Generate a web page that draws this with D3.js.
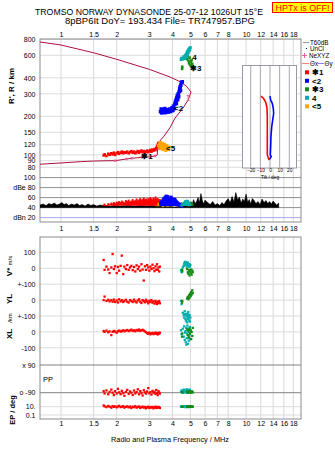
<!DOCTYPE html>
<html><head><meta charset="utf-8">
<script src="https://cdn.jsdelivr.net/npm/d3@7"></script>
<style>
body{margin:0;background:#fff}
svg{display:block;font-family:"Liberation Sans",Arial,sans-serif}
.ax text{font-size:7px;fill:#000}
.ax path{display:none}
</style>
</head><body><svg id="c" width="335" height="451"></svg>
<script>
// ---------- DATA ----------
const freqTicks = [1,1.5,2,3,4,5,6,7,8,10,12,14,16,18];
const heightTicks = [80,90,100,120,150,200,300,400,600,800];
const dbTicks = [20,40,60,80,100];

// echo 1 (red)
const redF  = [1.70,1.72,1.76,1.80,1.83,1.87,1.90,1.93,1.96,2.00,2.03,2.06,2.10,2.13,2.17,2.20,2.24,2.28,2.32,2.36,2.40,2.44,2.48,2.52,2.56,2.60,2.64,2.68,2.72,2.76,2.80,2.84,2.88,2.92,2.96,3.00,3.04,3.08,3.12,3.16,3.20,3.24,3.27,3.30,3.33,3.36,3.39,3.42];
const redH  = [99,101,98,102,100,103,101,104,100,103,105,102,104,106,103,105,104,106,103,105,107,104,106,103,105,107,104,106,108,105,107,104,106,108,105,107,109,106,110,108,111,109,113,116,120,124,118,112];
const redAmp= [46,48,45,49,47,50,48,51,49,52,50,53,51,54,52,50,55,53,56,52,54,57,53,55,58,54,56,59,55,57,60,56,58,55,59,57,61,58,56,60,57,62,58,55,59,56,53,57];
const redV  = [52,-10,10,-8,-30,5,89,-5,12,-30,8,-15,15,79,-37,10,-5,20,-10,5,15,-12,8,-20,18,-5,10,-15,25,-8,-77,12,-10,20,5,-15,10,-5,22,0,-18,12,-8,25,-10,5,-20,10];
const redYL = [0,22,-5,2,-8,0,-10,3,-12,-2,-15,5,-8,0,-12,-5,2,-10,-15,0,-5,-12,3,-8,-15,-2,5,-10,-18,0,-6,-14,2,-9,-20,-4,-12,0,-16,-8,-22,-5,-14,-25,-10,-18,-6,-20];
const redXL = [5,0,8,-2,3,-20,0,6,2,-5,4,8,2,6,10,4,8,12,5,9,14,6,10,4,12,8,15,6,10,13,8,3,-2,-8,-12,-5,-15,-10,-6,-14,-9,-4,-12,-8,-16,-6,-11,-5];
const redPP = [-80,-95,-75,-100,-85,-70,-90,-105,-80,-95,-65,-88,-100,-78,-92,-110,-85,-72,-98,-82,-90,-105,-76,-94,-86,-68,-100,-80,-92,-108,-74,-88,-96,-82,-60,-94,-86,-102,-78,-90,-84,-98,-72,-92,-106,-80,-88,-96];
const redEP = [20,12,8,15,10,6,14,9,12,7,11,16,8,10,13,6,9,12,7,11,5,10,8,13,6,9,11,5,8,10,6,9,4,7,10,5,8,6,9,4,7,10,5,8,6,9,7,5];

// echo 2 (blue)
const blueF  = [3.45,3.50,3.48,3.55,3.58,3.52,3.62,3.66,3.64,3.70,3.74,3.78,3.82,3.86,3.90,3.94,3.98,4.02,4.05,4.08,4.12,4.15,4.18,4.20,4.22,4.25,4.27,4.30,4.32,4.35,4.38,4.40,4.42,4.44,4.47,4.52];
const blueH  = [218,213,228,220,215,225,223,214,230,219,225,216,221,228,218,226,233,222,240,230,248,258,268,252,278,290,270,300,285,312,328,340,318,350,368,372];
const blueAmp= [52,55,50,58,60,54,62,64,57,66,63,65,60,62,58,64,61,56,59,55,60,57,52,55,50,53,48,51,46,49,44,47,50,45,42,44];

// echo 3 (green)
const greenF  = [4.51,4.52,4.80,4.84,4.88,4.92,4.95,4.98,5.02,5.05,5.08,5.12,5.15];
const greenH  = [470,488,560,590,545,520,575,505,535,495,550,515,485];
const greenAmp= [50,48,47,52,49,51,46,50,48,52,47,49,46];
const greenV  = [-10,-20,-5,-25,-35,-12,-45,-20,-30,-8,-40,-15,-25];
const greenYL = [-15,-5,10,20,5,30,15,40,25,50,35,62,45];
const greenXL = [-30,-10,15,-20,5,-35,20,-10,10,-45,0,-25,25];
const greenPP = [-85,-88,-82,-90,-86,-84,-88,-80,-86,-90,-84,-82,-88];
const greenEP = [10,11,9,12,10,11,9,10,12,10,9,11,10];

// echo 4 (cyan)
const cyanF  = [4.45,4.48,4.55,4.60,4.63,4.66,4.70,4.72,4.75,4.78,4.80,4.82,4.85,4.87,4.90,4.92,4.95,4.97,5.00,4.68,4.76,4.84,4.88,4.93];
const cyanH  = [555,570,560,585,575,590,600,580,610,620,640,600,650,630,670,655,680,660,690,565,595,625,645,665];
const cyanAmp= [46,44,48,50,52,47,55,49,53,51,56,48,54,50,52,47,49,45,46,53,51,55,49,48];
const cyanV  = [-12,-25,5,15,28,35,20,38,25,10,32,18,30,22,12,26,8,15,20,40,30,36,14,24];
const cyanYL = [-5,-25,-80,-95,-110,-70,-120,-90,-130,-100,-140,-85,-115,-75,-105,-125,-95,-135,-110,-88,-102,-118,-92,-128];
const cyanXL = [10,-15,20,-30,35,-50,5,-65,25,-40,-10,40,-75,15,-55,0,-20,30,-45,-5,-80,20,-35,10];
const cyanPP = [-85,-75,-90,-70,-80,-88,-72,-84,-78,-90,-68,-82,-76,-86,-74,-80,-88,-70,-84,-78,-72,-86,-80,-76];
const cyanEP = [10,12,9,11,13,10,8,12,11,9,14,10,12,8,11,13,9,10,12,11,9,13,10,12];

// echo 5 (orange)
const orangeF  = [3.36,3.40,3.44,3.48,3.50,3.53,3.56,3.60,3.63,3.66,3.70,3.73,3.76,3.80,3.84,3.42,3.55,3.68];
const orangeH  = [118,122,125,120,116,123,119,114,121,117,112,118,114,110,115,112,110,108];
const orangeAmp= [48,50,46,52,49,47,51,45,48,50,46,49,44,47,45,51,43,46];

// raw amplitude (black)
const ampF = [0.77,0.80,0.83,0.86,0.89,0.92,0.95,0.98,1.01,1.04,1.07,1.10,1.14,1.18,1.22,1.26,1.30,1.35,1.40,1.45,1.50,1.56,1.62,1.68,1.75,1.85,1.95,2.1,2.3,2.5,2.7,2.9,3.1,3.3,3.5,3.7,3.9,4.1,4.3,4.5,4.7,4.9,5.1,5.2,5.3,5.4,5.5,5.6,5.7,5.8,5.9,6.0,6.2,6.4,6.6,6.8,7.0,7.2,7.4,7.6,7.8,8.0,8.2,8.4,8.6,8.8,9.0,9.2,9.4,9.6,9.8,10.0,10.2,10.4,10.6,10.8,11.0,11.3,11.6,11.9,12.2,12.5,12.8,13.1,13.4,13.7,14.0,14.3,14.6,15.0];
const ampDB = [45,47,44,48,46,49,45,47,50,46,48,44,47,45,48,44,46,43,47,44,46,43,45,44,44,43,44,43,44,43,44,43,44,42,43,42,42,41,42,42,43,42,44,56,48,52,60,50,68,54,47,55,50,46,52,45,48,44,50,46,53,58,49,62,51,70,55,61,49,57,52,67,50,56,47,58,55,48,52,46,57,50,54,48,52,47,53,49,45,49];

// profile (plasma frequency vs real height)
const profF = [0.77,1.0,1.27,1.5,1.77,1.96,2.26,2.41,2.73,3.03,3.22,3.31,3.33,3.35,3.6,3.88,4.13,4.56,4.86,5.04,4.75,4.4,3.88,3.0,2.0,1.5,1.0,0.77];
const profH = [84.5,86.5,88.5,89.5,90,90.1,92.9,94,95.7,96.8,98,99.5,112,124,140,163,194,232,268,310,345,373,406,466,558,628,722,762];
const nexF = [1.96,2.26,2.41,2.73,3.03,3.22];
const nexH = [90.1,92.9,94,95.7,96.8,98];

// tilt
const tiltXh = [288,277,264,253,231,200,160,130,110,100,95,91];
const tiltX  = [-9.3,-6.9,-5.2,-4.1,-3.1,-2.8,-2.8,-2.8,-2.8,-2.8,-1.8,-0.7];
const tiltYh = [288,268,253,231,211,187,166,139,116,100,97,92.5];
const tiltY  = [0,0.7,2.4,3.4,3.8,2.8,1.8,1,0.7,0.3,1.3,-0.3];
const tiltTicks = [-20,-10,0,10,20];

// echo labels
const labelF = [2.71,4.08,4.98,5.11,3.69];
const labelH = [98,232,477,582,113];
const labelText = ["\u27311","<2","\u27313","4","<5"];

const legendNames = ["\u27311","<2","\u27313"," 4","<5"];
const echoColors = ["#ff0000","#0000ff","#158a15","#00aeae","#ffa500"];

// ---------- SCALES ----------
const svg = d3.select("#c");
const L = 40, R = 301;
const x  = d3.scaleLog().domain([0.77,19.8]).range([L,R]);
const yH = d3.scaleLog().domain([800,73.1]).range([39.3,172.3]);
const yDB= d3.scaleLinear().domain([20,100]).range([217.6,177.6]);
const yV = d3.scaleLinear().domain([100,-100]).range([252.3,284.2]);
const yYL= d3.scaleLinear().domain([100,-100]).range([284.2,316]);
const yXL= d3.scaleLinear().domain([100,-100]).range([316,347.8]);
const yPP= d3.scaleLinear().domain([90,-90]).range([365,392.7]);
const yEP= d3.scaleLog().domain([10,0.1]).range([406.7,415]);
const xT = d3.scaleLinear().domain([-28,28]).range([243,297]);

const T1 = 39, B1 = 222, T2 = 237, B2 = 419;

// ---------- HEADER ----------
svg.append("text").attr("x",35).attr("y",14.8).attr("font-size",8.6).attr("textLength",228)
  .attr("lengthAdjust","spacingAndGlyphs").text("TROMSO NORWAY   DYNASONDE 25-07-12 1026UT 15\u00B0E");
svg.append("text").attr("x",65).attr("y",23.5).attr("font-size",8.6).attr("textLength",190)
  .attr("lengthAdjust","spacingAndGlyphs").text("8pBP6It DoY= 193.434 File= TR747957.BPG");
svg.append("rect").attr("x",272.5).attr("y",2.5).attr("width",60).attr("height",10)
  .attr("fill","#ffff00").attr("stroke","#ff0000");
svg.append("text").attr("x",302.5).attr("y",10.8).attr("text-anchor","middle").attr("font-size",8.5)
  .attr("fill","#ff0000").attr("textLength",54).attr("lengthAdjust","spacingAndGlyphs").text("HPTx is OFF!");

// ---------- GRIDS ----------
const grid = svg.append("g");
freqTicks.forEach(f=>{
  grid.append("line").attr("x1",x(f)).attr("x2",x(f)).attr("y1",T1).attr("y2",B1).attr("stroke","#d9d9d9");
  grid.append("line").attr("x1",x(f)).attr("x2",x(f)).attr("y1",T2).attr("y2",B2).attr("stroke","#d9d9d9");
});
heightTicks.forEach(h=>{
  grid.append("line").attr("x1",L).attr("x2",R).attr("y1",yH(h)).attr("y2",yH(h)).attr("stroke","#dcdcdc");
});
dbTicks.forEach(d=>{
  grid.append("line").attr("x1",L).attr("x2",R).attr("y1",yDB(d)).attr("y2",yDB(d))
   .attr("stroke", d===20 ? "#a8a8e8" : "#909090");
});
const lightLines = [[yV,100],[yV,0],[yV,-100],[yYL,0],[yYL,-100],[yXL,0],[yXL,-100],[yEP,10],[yEP,0.1]];
lightLines.forEach(([s,v])=>{
  grid.append("line").attr("x1",L).attr("x2",R).attr("y1",s(v)).attr("y2",s(v)).attr("stroke","#dcdcdc");
});
[90,-90].forEach(v=>{
  grid.append("line").attr("x1",L).attr("x2",R).attr("y1",yPP(v)).attr("y2",yPP(v)).attr("stroke","#808080");
});

// ---------- AXES ----------
function xAxis(gen, y){
  svg.append("g").attr("class","ax").attr("transform",`translate(0,${y})`)
    .call(gen(x).tickValues(freqTicks).tickFormat(d=>d).tickSize(0).tickPadding(0));
}
xAxis(d3.axisTop, 37.2);
xAxis(d3.axisBottom, 226.5);
xAxis(d3.axisBottom, 421.5);

function yAxis(scale, vals, fmt){
  svg.append("g").attr("class","ax").attr("transform",`translate(${L},0)`)
    .call(d3.axisLeft(scale).tickValues(vals).tickFormat(fmt).tickSize(0).tickPadding(4.5));
}
yAxis(yH, heightTicks, d=>d);
yAxis(yDB, dbTicks, d=> d===80 ? "dBe 80" : d===20 ? "dBn 20" : d);
yAxis(yV, [100,0], d=>d);
yAxis(yYL, [100,0], d=> d===100 ? "+-100" : d);
yAxis(yXL, [100,0,-100], d=> d===100 ? "+-100" : d);
yAxis(yPP, [90,-90], d=> d===90 ? "x 90" : "o -90");
yAxis(yEP, [10,0.1], d=> d===10 ? "10." : "0.1");

// ---------- FRAMES ----------
svg.append("rect").attr("x",L).attr("y",T1).attr("width",R-L).attr("height",B1-T1).attr("fill","none").attr("stroke","#8c8c8c");
svg.append("rect").attr("x",L).attr("y",T2).attr("width",R-L).attr("height",B2-T2).attr("fill","none").attr("stroke","#8c8c8c");

// axis titles
svg.append("text").attr("transform","translate(14,86) rotate(-90)").attr("text-anchor","middle")
  .attr("font-size",8).attr("font-weight","bold").text("R', R / km");
const vt = svg.append("text").attr("transform","translate(12,266) rotate(-90)").attr("text-anchor","middle").attr("font-weight","bold");
vt.append("tspan").attr("font-size",8).text("V* ");
vt.append("tspan").attr("font-size",6).attr("font-weight","normal").text("m/s");
svg.append("text").attr("transform","translate(12,299) rotate(-90)").attr("text-anchor","middle").attr("font-size",8).attr("font-weight","bold").text("YL");
svg.append("text").attr("transform","translate(12,318) rotate(-90)").attr("text-anchor","middle").attr("font-size",6).text("/km");
svg.append("text").attr("transform","translate(12,334) rotate(-90)").attr("text-anchor","middle").attr("font-size",8).attr("font-weight","bold").text("XL");
svg.append("text").attr("transform","translate(15,410) rotate(-90)").attr("text-anchor","middle").attr("font-size",7.5).attr("font-weight","bold").text("EP / deg");
svg.append("text").attr("x",43).attr("y",381.5).attr("font-size",7.5).text("PP");
svg.append("text").attr("x",170).attr("y",441.5).attr("text-anchor","middle").attr("font-size",8)
  .attr("textLength",118).attr("lengthAdjust","spacingAndGlyphs").text("Radio and Plasma Frequency / MHz");

// ---------- MAIN PANEL ----------
svg.append("clipPath").attr("id","c1").append("rect").attr("x",L).attr("y",T1).attr("width",R-L).attr("height",B1-T1);
const main = svg.append("g").attr("clip-path","url(#c1)");

function dots(g, fs, vs, sy, color, size){
  g.append("g").selectAll("rect").data(fs.map((f,i)=>[f,vs[i]])).join("rect")
    .attr("x",d=>x(d[0])-size/2).attr("y",d=>sy(d[1])-size/2)
    .attr("width",size).attr("height",size).attr("fill",color);
}

// profile line
main.append("path").datum(profF.map((f,i)=>[f,profH[i]]))
  .attr("d", d3.line().x(d=>x(d[0])).y(d=>yH(d[1])))
  .attr("fill","none").attr("stroke","#b0103e").attr("stroke-width",1);

dots(main, redF, redH, yH, echoColors[0], 2.6);
dots(main, orangeF, orangeH, yH, echoColors[4], 3);
dots(main, blueF, blueH, yH, echoColors[1], 3.6);
dots(main, greenF, greenH, yH, echoColors[2], 2.6);
dots(main, cyanF, cyanH, yH, echoColors[3], 2.8);
// NeXYZ markers
dots(main, nexF, nexH, yH, "#e8609a", 2.4);
// error bar marker near peak
(function(){
  const px = x(4.86), py = yH(278);
  main.append("path").attr("d",`M${px-1.5},${py-2.5}H${px+1.5}M${px},${py-2.5}V${py+2.5}M${px-1.5},${py+2.5}H${px+1.5}`)
    .attr("stroke","#e8609a").attr("fill","none");
})();
// echo labels
main.append("g").selectAll("text").data(labelText).join("text")
  .attr("x",(d,i)=>x(labelF[i])).attr("y",(d,i)=>yH(labelH[i])).attr("dy","0.35em")
  .attr("font-size",8).attr("font-weight","bold").attr("fill","#000").text(d=>d);

// ---------- TILT INSET ----------
const ti = svg.append("g");
ti.append("rect").attr("x",242.5).attr("y",65.5).attr("width",54).attr("height",102.5).attr("fill","#fff").attr("stroke","#9a9aa6");
tiltTicks.forEach(t=>{
  ti.append("line").attr("x1",xT(t)).attr("x2",xT(t)).attr("y1",66).attr("y2",168).attr("stroke","#a6a6b0");
});
ti.append("g").attr("transform","translate(0,168)")
  .call(d3.axisBottom(xT).tickValues(tiltTicks).tickSize(0).tickPadding(0.5))
  .call(g=>{g.select(".domain").remove(); g.selectAll("text").attr("font-size",4.8).attr("fill","#000");});
ti.append("text").attr("x",270).attr("y",178.5).attr("text-anchor","middle").attr("font-size",4.8).text("Tilt / deg");
ti.append("path").datum(tiltX.map((v,i)=>[v,tiltXh[i]]))
  .attr("d",d3.line().x(d=>xT(d[0])).y(d=>yH(d[1]))).attr("fill","none").attr("stroke","#ff0000").attr("stroke-width",1.6);
ti.append("path").datum(tiltY.map((v,i)=>[v,tiltYh[i]]))
  .attr("d",d3.line().x(d=>xT(d[0])).y(d=>yH(d[1]))).attr("fill","none").attr("stroke","#0000ff").attr("stroke-width",1.6);

// ---------- AMPLITUDE PANEL ----------
main.append("path").datum(ampF.map((f,i)=>[f,ampDB[i]]))
  .attr("d", d3.area().x(d=>x(d[0])).y0(yDB(40)).y1(d=>yDB(d[1])))
  .attr("fill","#000").attr("stroke","#000").attr("stroke-width",0.6);
function bars(fs, amps, color, w){
  main.append("g").selectAll("rect").data(fs.map((f,i)=>[f,amps[i]])).join("rect")
    .attr("x",d=>x(d[0])-w/2).attr("y",d=>yDB(d[1]))
    .attr("width",w).attr("height",d=>Math.max(1,yDB(44)-yDB(d[1]))).attr("fill",color);
}
bars(redF, redAmp, echoColors[0], 2);
bars(orangeF, orangeAmp, echoColors[4], 2.5);
bars(blueF, blueAmp, echoColors[1], 3);
bars(greenF, greenAmp, echoColors[2], 2);
bars(cyanF, cyanAmp, echoColors[3], 2.5);

// ---------- LOWER PANELS ----------
svg.append("clipPath").attr("id","c2").append("rect").attr("x",L).attr("y",T2).attr("width",R-L).attr("height",B2-T2);
const low = svg.append("g").attr("clip-path","url(#c2)");
[[redF,[redV,redYL,redXL,redPP,redEP],echoColors[0]],
 [cyanF,[cyanV,cyanYL,cyanXL,cyanPP,cyanEP],echoColors[3]],
 [greenF,[greenV,greenYL,greenXL,greenPP,greenEP],echoColors[2]]].forEach(([fs,vals,col])=>{
  [yV,yYL,yXL,yPP,yEP].forEach((s,k)=>dots(low, fs, vals[k], s, col, 2.3));
});

// ---------- LEGEND ----------
const lg = svg.append("g").attr("font-size",6.3);
lg.append("line").attr("x1",303).attr("x2",309).attr("y1",42.5).attr("y2",42.5).attr("stroke","#999");
lg.append("text").attr("x",310).attr("y",44.7).text("T60dB");
lg.append("rect").attr("x",306).attr("y",48).attr("width",1).attr("height",1).attr("fill","#000");
lg.append("text").attr("x",310).attr("y",51).text("UnCl");
lg.append("path").attr("d","M302,55.5H307M304.5,53V58").attr("stroke","#e8609a");
lg.append("text").attr("x",309).attr("y",57.7).text("NeXYZ");
lg.append("line").attr("x1",302).attr("x2",309).attr("y1",63.5).attr("y2",63.5).attr("stroke","#ff8080");
lg.append("text").attr("x",310).attr("y",65.7).text("\u0398x");
lg.append("line").attr("x1",318).attr("x2",324).attr("y1",63.5).attr("y2",63.5).attr("stroke","#8080ff");
lg.append("text").attr("x",324.5).attr("y",65.7).text("\u0398y");
const legY = [72.3,80.8,89.3,97.8,106.3];
legendNames.forEach((n,i)=>{
  lg.append("rect").attr("x",305).attr("y",legY[i]-2).attr("width",4).attr("height",4).attr("fill",echoColors[i]);
  lg.append("text").attr("x",312).attr("y",legY[i]+2.8).attr("font-weight","bold").attr("font-size",8).text(n);
});
</script>
</body></html>
